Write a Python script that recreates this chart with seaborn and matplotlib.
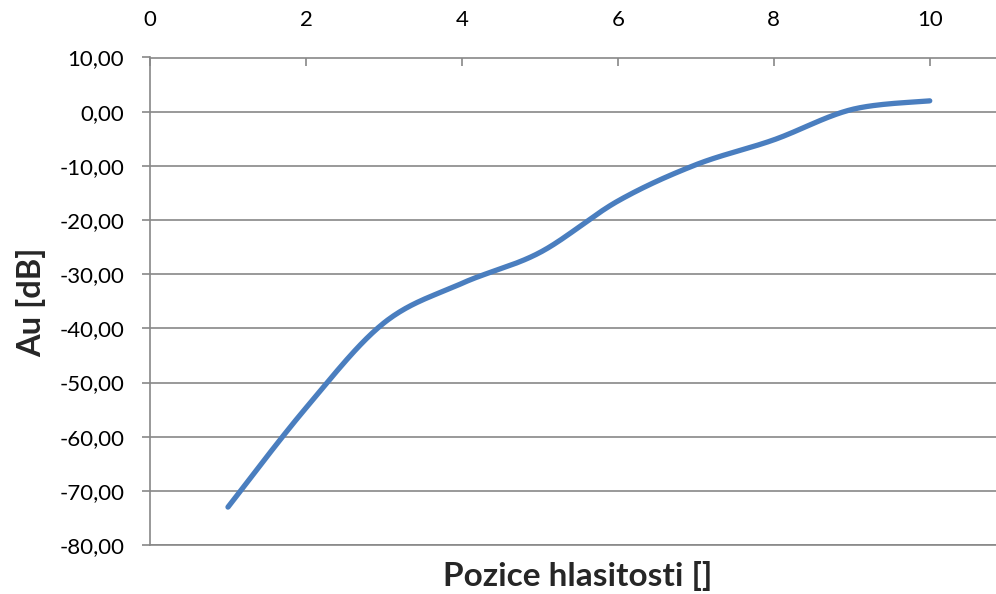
import numpy as np
import pandas as pd
import matplotlib
matplotlib.use("Agg")
import matplotlib.pyplot as plt
import matplotlib.ticker as mticker
import seaborn as sns

# ---- data ----
positions = [1, 2, 3, 4, 5, 6, 7, 8, 9, 10]
gain_db = [-73.0, -54.7, -39.0, -31.7, -26.0, -16.5, -9.8, -5.2, 0.4, 2.0]
x_ticks = [0, 2, 4, 6, 8, 10]
y_ticks = [10, 0, -10, -20, -30, -40, -50, -60, -70, -80]
x_label = "Pozice hlasitosti []"
y_label = "Au [dB]"

sns.set_style("white")
plt.rcParams['font.family'] = ['Lato', 'DejaVu Sans']


def smooth_curve(xs, ys, n=40):
    """Excel-like smoothed line (Catmull-Rom Bezier segments)."""
    P = np.column_stack([xs, ys]).astype(float)
    out = []
    for i in range(len(P) - 1):
        p0 = P[i - 1] if i > 0 else P[i]
        p1 = P[i]
        p2 = P[i + 1]
        p3 = P[i + 2] if i + 2 < len(P) else P[i + 1]
        c1 = p1 + (p2 - p0) / 6.0
        c2 = p2 - (p3 - p1) / 6.0
        t = np.linspace(0, 1, n, endpoint=(i == len(P) - 2))[:, None]
        seg = ((1 - t) ** 3) * p1 + 3 * ((1 - t) ** 2) * t * c1 + 3 * (1 - t) * t ** 2 * c2 + t ** 3 * p2
        out.append(seg)
    out = np.vstack(out)
    return out[:, 0], out[:, 1]


sx, sy = smooth_curve(positions, gain_db)
df = pd.DataFrame({"x": sx, "y": sy})

fig = plt.figure(figsize=(9.96, 5.94), dpi=100)
ax = fig.add_axes([150 / 996, 1 - 545 / 594, 1 - 150 / 996, (545 - 57.5) / 594])

sns.lineplot(data=df, x="x", y="y", sort=False, ax=ax, color="#4A7EBF",
             linewidth=3.8, solid_capstyle="round", zorder=5)

ax.set_xlim(0, (996 - 149.4) / 78.03)
ax.set_ylim(-80, 10)
ax.set_xticks(x_ticks)
ax.set_yticks(y_ticks)
ax.yaxis.set_major_formatter(mticker.FuncFormatter(lambda v, p: f"{v:.2f}".replace(".", ",")))

grid_c = "#888888"
ax.grid(axis="y", color=grid_c, linewidth=1.2)
ax.grid(axis="x", visible=False)
for s in ["top", "bottom", "left"]:
    ax.spines[s].set_visible(True)
    ax.spines[s].set_color(grid_c)
    ax.spines[s].set_linewidth(1.2)
ax.spines["right"].set_visible(False)

ax.xaxis.tick_top()
ax.tick_params(axis="x", which="major", direction="in", length=6, width=1.2,
               color=grid_c, labelsize=16, pad=20, labelcolor="black",
               top=True, bottom=False)
ax.tick_params(axis="y", which="major", direction="out", length=6, width=1.2,
               color=grid_c, labelsize=16, pad=12.5, labelcolor="black", left=True)

ax.set_xlabel("")
ax.set_ylabel("")
fig.text(578 / 996, 1 - 576 / 594, x_label, ha="center", va="center",
         fontsize=24, fontweight="bold")
fig.text(31 / 996, 1 - 302 / 594, y_label, ha="center", va="center",
         rotation=90, fontsize=23.5, fontweight="bold")

fig.savefig("out.png", dpi=100, facecolor="white")
